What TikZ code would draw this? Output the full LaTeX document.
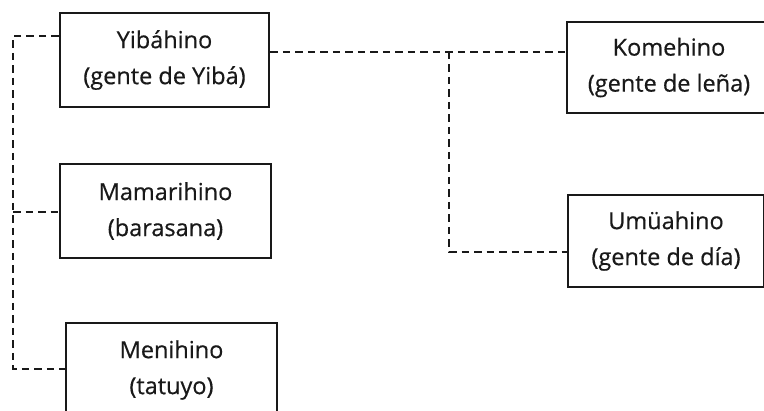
\documentclass[tikz,border=0pt]{standalone}
\usepackage{fontspec}
\setmainfont{Open Sans}
\newfontfamily\clanfont{Open Sans}[FakeBold=0.5]
\begin{document}
\begin{tikzpicture}[x=1pt,y=-1pt,
  ink/.style={draw=black!90},
  clan/.style={ink, line width=2.8pt, align=center, inner sep=0pt,
    font=\clanfont\fontsize{23.5}{36}\selectfont, text=black!90},
  link/.style={ink, line width=2.6pt, dash pattern=on 7.5pt off 5pt}]
  \useasboundingbox (0,0) rectangle (764,411);
  \clip (0,0) rectangle (764,411);

  % clan boxes
  \node[clan, minimum width=209pt, minimum height=94pt] (yiba) at (164.5,60) {Yibáhino\\(gente de Yibá)};
  \node[clan, minimum width=211pt, minimum height=94pt] (mama) at (165.5,211) {Mamarihino\\(barasana)};
  \node[clan, minimum width=211pt, minimum height=94pt] (meni) at (171.5,370) {Menihino\\(tatuyo)};
  \node[clan, minimum width=204pt, minimum height=91pt] (kome) at (669,67.5) {Komehino\\(gente de leña)};
  \node[clan, minimum width=196pt, minimum height=92pt] (umua) at (666,241) {Umüahino\\(gente de día)};

  % junction points of the dashed links
  \coordinate (ltop) at (13,36);
  \coordinate (lmid) at (13,212);
  \coordinate (lbot) at (13,369);
  \coordinate (rtop) at (449,52);
  \coordinate (rbot) at (449,252);

  % left family
  \draw[link] (yiba.west |- ltop) -- (ltop) -- (lbot) -- (meni.west |- lbot);
  \draw[link] (lmid) -- (mama.west |- lmid);

  % right family
  \draw[link] (yiba.east |- rtop) -- (kome.west |- rtop);
  \draw[link] (rtop) -- (rbot) -- (umua.west |- rbot);
\end{tikzpicture}
\end{document}
